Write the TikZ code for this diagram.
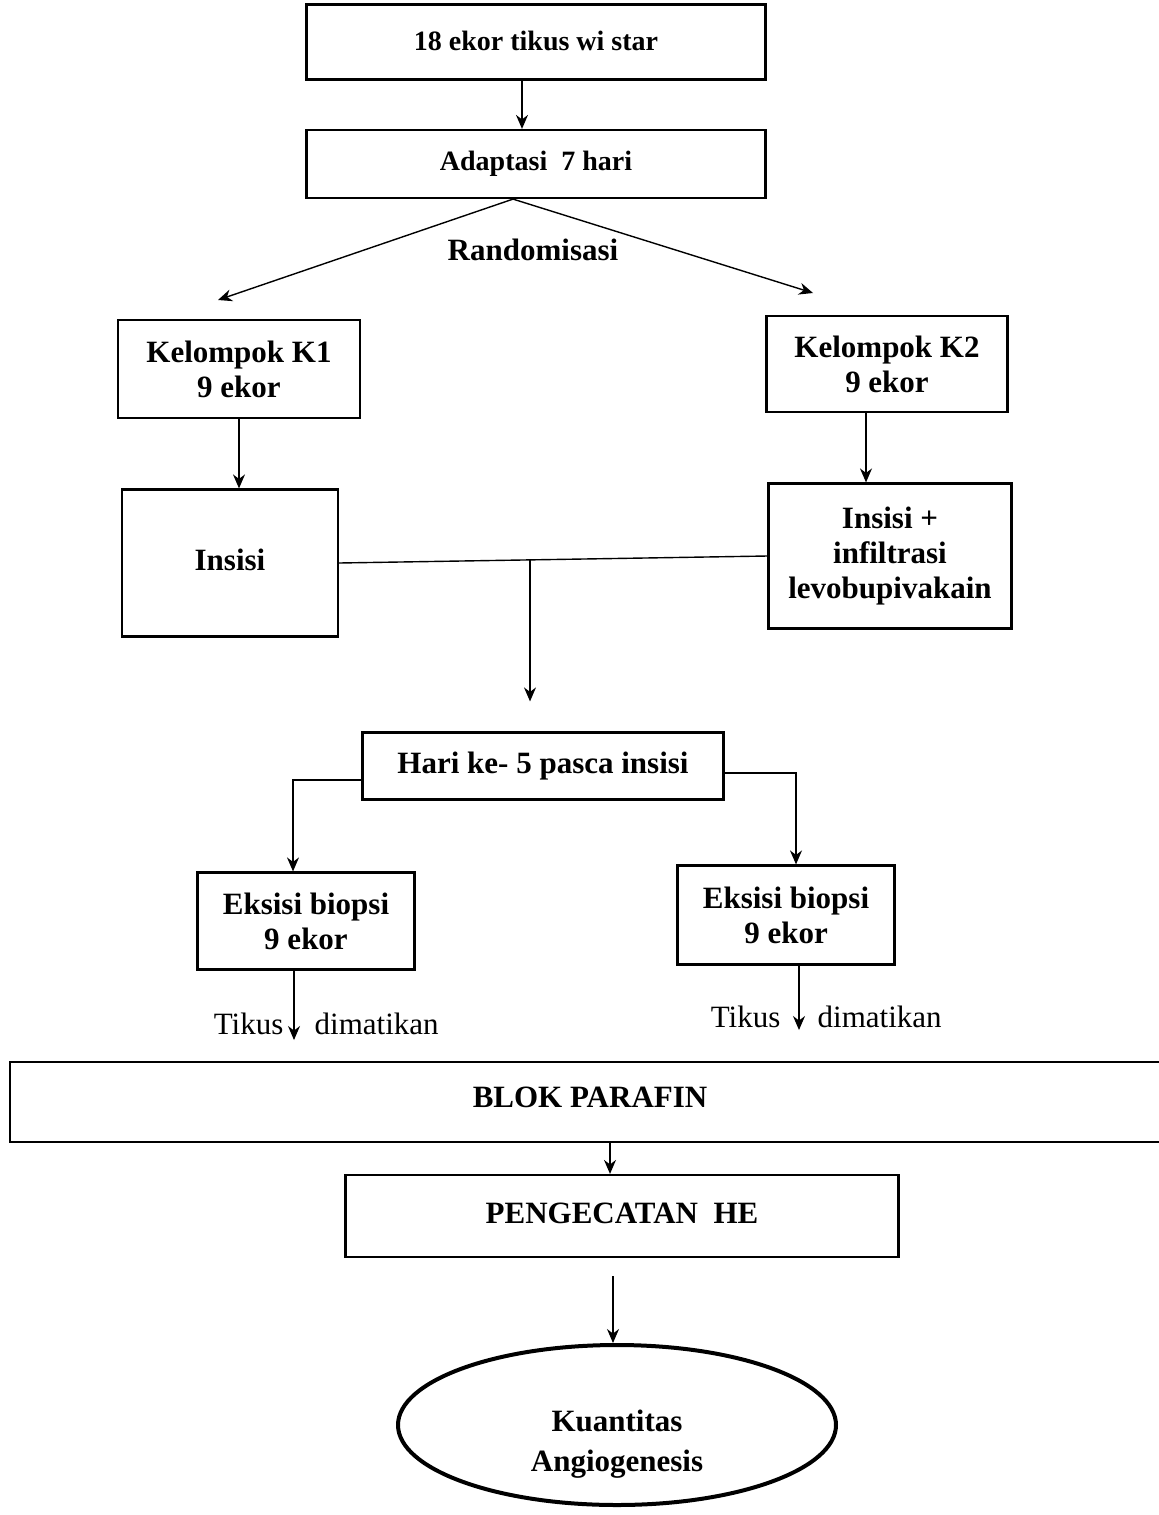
\documentclass[tikz,border=0pt]{standalone}
\usepackage{fontspec}
\setmainfont{Liberation Serif}
\usepackage{tikz}
\usetikzlibrary{shapes.geometric, arrows, arrows.meta}
\tikzstyle{process} = [rectangle, inner sep=0pt, align=center, draw=black, line width=1.1pt, font=\bfseries\fontsize{15.5}{17.5}\selectfont]
\tikzstyle{topbox} = [process, minimum width=229.5pt, font=\bfseries\fontsize{14}{16}\selectfont]
\tikzstyle{startend} = [ellipse, inner sep=0pt, align=center, draw=black, line width=2pt, font=\bfseries\fontsize{15.5}{19}\selectfont]
\tikzstyle{arrow} = [line width=0.7pt,-{Stealth[length=7pt,width=6pt]}]
\tikzstyle{note} = [draw=none, fill=none, inner sep=0pt, font=\fontsize{15.5}{17}\selectfont]

\begin{document}
\begin{tikzpicture}[x=0.5pt, y=-0.5pt]
\useasboundingbox (0,0) rectangle (1159,1515);

% --------- Awal ----------
\node (TOP)     [topbox, minimum height=37.5pt] at (536,42)  {\raisebox{1.5pt}{18 ekor tikus wi star}};
\node (ADAPT)   [topbox, minimum height=34pt]   at (536,164) {\raisebox{1.5pt}{Adaptasi\ \ 7 hari}};
\node (RANDLBL) [process, draw=none] at (533,250) {Randomisasi};
\coordinate (K1ARR) at (218,300);
\coordinate (K2ARR) at (813,293);

% --------- Kelompok ----------
\node (K1)      [process, minimum width=121pt, minimum height=49pt]   at (239,369) {Kelompok K1\\9 ekor};
\node (K2)      [process, minimum width=120.5pt, minimum height=48pt] at (887,364) {Kelompok K2\\9 ekor};
\node (INS)     [process, minimum width=108pt, minimum height=73.5pt] at (230,563) {\raisebox{3pt}{Insisi}};
\node (INSLEVO) [process, minimum width=121.5pt, minimum height=72.5pt] at (890,556) {Insisi +\\infiltrasi\\levobupivakain};
\coordinate (JOIN) at (530,560);

% --------- Eksisi ----------
\node (HARI)    [process, minimum width=180.5pt, minimum height=33.5pt] at (543,766) {\raisebox{2pt}{Hari ke- 5 pasca insisi}};
\node (EKS1)    [process, minimum width=108.5pt, minimum height=48.5pt] at (306,921) {Eksisi biopsi\\9 ekor};
\node (EKS2)    [process, minimum width=108.5pt, minimum height=49.5pt] at (786,915) {Eksisi biopsi\\9 ekor};
\coordinate (END1) at (294,1040);
\coordinate (END2) at (799,1030);

% --------- Preparat ----------
\node (BLOK)    [process, minimum width=580pt, minimum height=40pt] at (590,1102) {\raisebox{4.5pt}{BLOK PARAFIN}};
\node (PHE)     [process, minimum width=276.5pt, minimum height=41pt] at (622,1216) {\raisebox{2.5pt}{PENGECATAN\ \ HE}};
\node (KUANT)   [startend, minimum width=219pt, minimum height=80pt] at (617,1425)
  {\raisebox{-13pt}[0pt][0pt]{\begin{tabular}{@{}c@{}}Kuantitas\\[1pt]Angiogenesis\end{tabular}}};

% Edges (atas)
\draw [arrow] ([xshift=-7pt]TOP.south) -- ([xshift=-7pt]ADAPT.north);
\draw [arrow] ([xshift=-11.5pt]ADAPT.south) -- (K1ARR);
\draw [arrow] ([xshift=-11.5pt]ADAPT.south) -- (K2ARR);
\draw [arrow] (K1.south) -- (K1.south |- INS.north);
\draw [arrow] ([xshift=-10.5pt]K2.south) -- ([xshift=-10.5pt]K2.south |- INSLEVO.north);

% Edges (gabung)
\draw [line width=0.7pt] (INS.east) -- (INSLEVO.west);
\draw [arrow] (JOIN) -- ([yshift=15pt]HARI.north -| JOIN);
\draw [arrow] ([yshift=-7pt]HARI.west) -| ([xshift=-6.5pt]EKS1.north);
\draw [arrow] ([yshift=-3.5pt]HARI.east) -| ([xshift=5pt]EKS2.north);

% Tikus dimatikan
\draw [arrow] ([xshift=-6pt]EKS1.south) -- (END1)
  node[note, pos=0.77, left, xshift=-5pt] {Tikus}
  node[note, pos=0.77, right, xshift=10pt] {dimatikan};
\draw [arrow] ([xshift=6.5pt]EKS2.south) -- (END2)
  node[note, pos=0.8, left, xshift=-9pt] {Tikus}
  node[note, pos=0.8, right, xshift=9pt] {dimatikan};

% Edges (bawah)
\draw [arrow] ([xshift=-6pt]PHE.north |- BLOK.south) -- ([xshift=-6pt]PHE.north);
\draw [arrow, shorten <=9pt] ([xshift=-4.5pt]PHE.south) -- ([xshift=-4.5pt]PHE.south |- KUANT.north);

\end{tikzpicture}
\end{document}
